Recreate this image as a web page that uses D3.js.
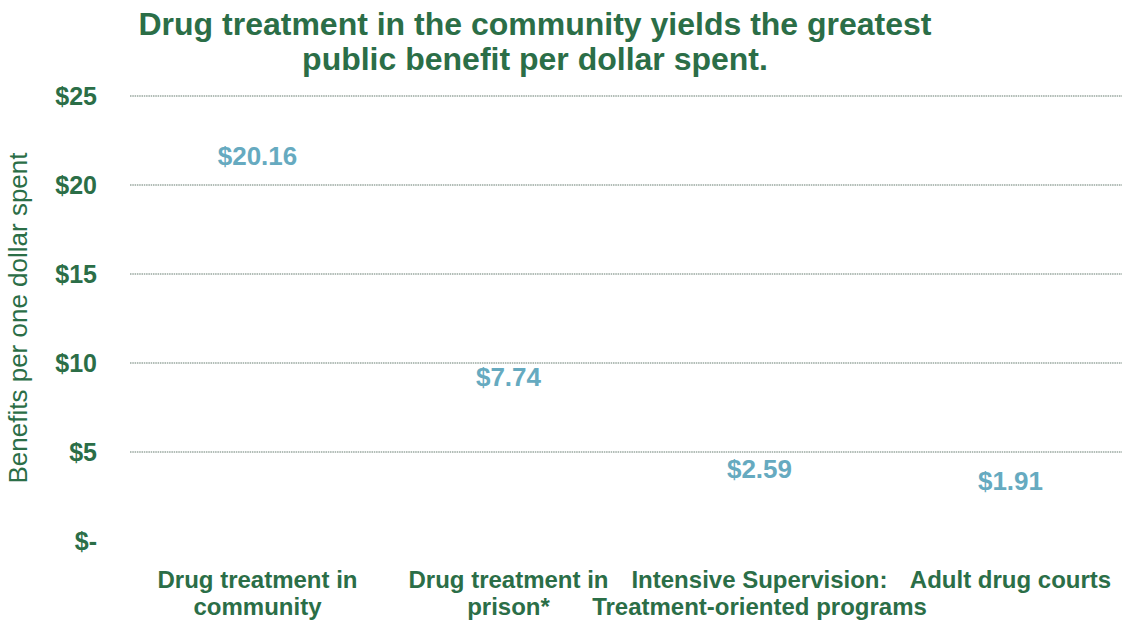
<!DOCTYPE html>
<html>
<head>
<meta charset="utf-8">
<script src="https://cdn.jsdelivr.net/npm/d3@7"></script>
<style>
  body { margin: 0; background: #fff; }
  svg { display: block; font-family: "Liberation Sans", Arial, sans-serif; }
</style>
</head>
<body>
<div id="chart"></div>
<script>
// chart values
let categories = [
  ["Drug treatment in", "community"],
  ["Drug treatment in", "prison*"],
  ["Intensive Supervision:", "Treatment-oriented programs"],
  ["Adult drug courts"]
];
let values = [20.16, 7.74, 2.59, 1.91];
let tickValues = [0, 5, 10, 15, 20, 25];
let tickLabels = ["$-", "$5", "$10", "$15", "$20", "$25"];
let titleLines = [
  "Drug treatment in the community yields the greatest",
  "public benefit per dollar spent."
];
let yTitle = "Benefits per one dollar spent";

let width = 1122;
let height = 622;
let green = "#2b6e47";
let blue = "#66aac0";

let svg = d3.select("#chart")
  .append("svg")
  .attr("width", width)
  .attr("height", height);

// scales
let xScale = d3.scaleBand()
  .domain(d3.range(values.length))
  .range([132, 1136]);

let yScale = d3.scaleLinear()
  .domain([0, 25])
  .range([541, 96]);

// title
svg.append("g")
  .selectAll("text")
  .data(titleLines)
  .enter()
  .append("text")
  .attr("x", 535)
  .attr("y", function(d, i) { return 35 + i * 35; })
  .attr("text-anchor", "middle")
  .attr("font-size", 32)
  .attr("font-weight", "bold")
  .attr("fill", green)
  .text(function(d) { return d; });

// gridlines (no line at zero)
svg.append("g")
  .selectAll("line")
  .data(tickValues.filter(function(d) { return d > 0; }))
  .enter()
  .append("line")
  .attr("x1", 130)
  .attr("x2", width)
  .attr("y1", function(d) { return yScale(d); })
  .attr("y2", function(d) { return yScale(d); })
  .attr("stroke", "#b2bdb7")
  .attr("stroke-width", 2)
  .attr("stroke-dasharray", "1.5,0.8");

// y axis labels
let yAxis = d3.axisLeft(yScale)
  .tickValues(tickValues)
  .tickFormat(function(d, i) { return tickLabels[i]; })
  .tickSize(0)
  .tickPadding(0);

let yG = svg.append("g")
  .attr("transform", "translate(97,0)")
  .call(yAxis);
yG.select(".domain").remove();
yG.selectAll("text")
  .attr("font-family", "Liberation Sans, Arial, sans-serif")
  .attr("font-size", 25)
  .attr("font-weight", "bold")
  .attr("fill", green)
  .attr("dy", "0.35em");

// y axis title
svg.append("text")
  .attr("transform", "translate(27,318)rotate(-90)")
  .attr("text-anchor", "middle")
  .attr("font-size", 26)
  .attr("fill", green)
  .text(yTitle);

// value labels (bars are invisible in the original)
svg.append("g")
  .selectAll("text")
  .data(values)
  .enter()
  .append("text")
  .attr("x", function(d, i) { return xScale(i) + xScale.bandwidth() / 2; })
  .attr("y", function(d) { return yScale(d) - 17; })
  .attr("text-anchor", "middle")
  .attr("font-size", 26)
  .attr("font-weight", "bold")
  .attr("fill", blue)
  .text(function(d) { return "$" + d.toFixed(2); });

// category labels
let catG = svg.append("g")
  .selectAll("text")
  .data(categories)
  .enter()
  .append("text")
  .attr("x", function(d, i) { return xScale(i) + xScale.bandwidth() / 2; })
  .attr("y", 588)
  .attr("text-anchor", "middle")
  .attr("font-size", 24)
  .attr("font-weight", "bold")
  .attr("fill", green);

catG.selectAll("tspan")
  .data(function(d) { return d; })
  .enter()
  .append("tspan")
  .attr("x", function() { return d3.select(this.parentNode).attr("x"); })
  .attr("dy", function(d, i) { return i === 0 ? 0 : 27; })
  .text(function(d) { return d; });
</script>
</body>
</html>
